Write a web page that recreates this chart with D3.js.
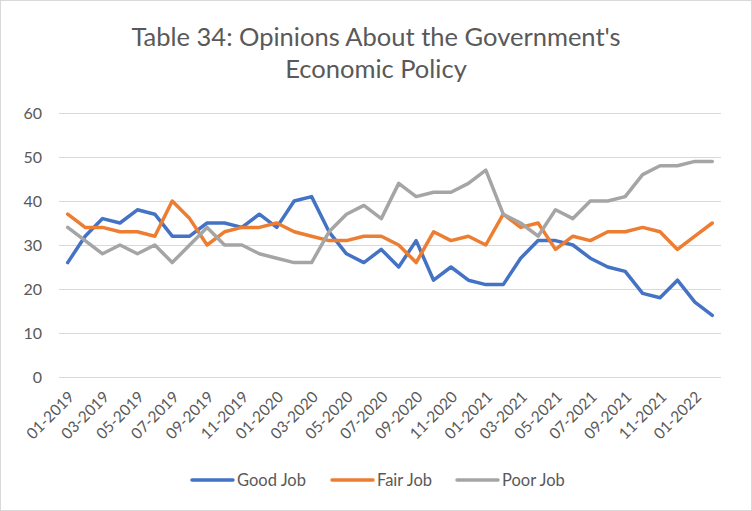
<!DOCTYPE html>
<html>
<head>
<meta charset="utf-8">
<title>Table 34</title>
<script src="https://cdn.jsdelivr.net/npm/d3@7"></script>
<style>
  body { margin: 0; background: #fff; }
  text { font-family: Lato, "Open Sans", sans-serif; fill: #595959; }
  .grid line { stroke: #d9d9d9; stroke-width: 1; }
  .series { fill: none; stroke-width: 3.5; stroke-linejoin: round; stroke-linecap: round; }
</style>
</head>
<body>
<svg width="752" height="511"></svg>
<script>
// months 01-2019 .. 02-2022
var months = ["01-2019","02-2019","03-2019","04-2019","05-2019","06-2019","07-2019","08-2019","09-2019","10-2019","11-2019","12-2019",
  "01-2020","02-2020","03-2020","04-2020","05-2020","06-2020","07-2020","08-2020","09-2020","10-2020","11-2020","12-2020",
  "01-2021","02-2021","03-2021","04-2021","05-2021","06-2021","07-2021","08-2021","09-2021","10-2021","11-2021","12-2021",
  "01-2022","02-2022"];

var goodJob = [26,32,36,35,38,37,32,32,35,35,34,37, 34,40,41,33,28,26,29,25,31,22,25,22, 21,21,27,31,31,30,27,25,24,19,18,22, 17,14];
var fairJob = [37,34,34,33,33,32,40,36,30,33,34,34, 35,33,32,31,31,32,32,30,26,33,31,32, 30,37,34,35,29,32,31,33,33,34,33,29, 32,35];
var poorJob = [34,31,28,30,28,30,26,30,34,30,30,28, 27,26,26,33,37,39,36,44,41,42,42,44, 47,37,35,32,38,36,40,40,41,46,48,48, 49,49];

var seriesNames = ["Good Job", "Fair Job", "Poor Job"];
var seriesColors = ["#4472c4", "#ed7d31", "#a5a5a5"];
var yTicks = [0, 10, 20, 30, 40, 50, 60];

var series = [goodJob, fairJob, poorJob];

var svg = d3.select("svg");

// outer chart border
svg.append("rect")
  .attr("x", 0.5).attr("y", 0.5)
  .attr("width", 751).attr("height", 510)
  .attr("fill", "#fff").attr("stroke", "#d9d9d9");

var plotLeft = 59, plotRight = 721, plotTop = 113, plotBottom = 377;

var x = d3.scalePoint()
  .domain(months)
  .range([plotLeft, plotRight])
  .padding(0.5);

var y = d3.scaleLinear()
  .domain([0, 60])
  .range([plotBottom, plotTop]);

// title
var title = svg.append("text")
  .attr("text-anchor", "middle")
  .style("font-size", "25.5px");
title.append("tspan").attr("x", 376).attr("y", 46).text("Table 34: Opinions About the Government's");
title.append("tspan").attr("x", 376).attr("y", 78).text("Economic Policy");

// gridlines
svg.append("g").attr("class", "grid")
  .selectAll("line")
  .data(yTicks)
  .enter()
  .append("line")
  .attr("x1", plotLeft).attr("x2", plotRight)
  .attr("y1", function(d) { return Math.round(y(d)) + 0.5; })
  .attr("y2", function(d) { return Math.round(y(d)) + 0.5; });

// y axis labels
var yAxis = d3.axisLeft(y).tickValues(yTicks).tickSize(0).tickPadding(0);
svg.append("g")
  .attr("transform", "translate(42,0)")
  .call(yAxis)
  .call(function(g) {
    g.select(".domain").remove();
    g.selectAll("text").style("font-size", "16px").attr("fill", "#595959");
  });

// x axis labels, every other month
var xAxis = d3.axisBottom(x)
  .tickValues(months.filter(function(d, i) { return i % 2 === 0; }))
  .tickSize(0);
svg.append("g")
  .attr("transform", "translate(0," + plotBottom + ")")
  .call(xAxis)
  .call(function(g) {
    g.select(".domain").remove();
    g.selectAll("text")
      .style("font-size", "15.5px")
      .attr("fill", "#595959")
      .attr("text-anchor", "end")
      .attr("dy", null)
      .attr("y", 0)
      .attr("transform", "translate(7,21) rotate(-45)");
  });

// lines
var line = d3.line()
  .x(function(d, i) { return x(months[i]); })
  .y(function(d) { return y(d); });

svg.selectAll("path.series")
  .data(series)
  .enter()
  .append("path")
  .attr("class", "series")
  .attr("stroke", function(d, i) { return seriesColors[i]; })
  .attr("d", line);

// legend
var legendX = [190, 330, 455];
var legend = svg.selectAll("g.legend")
  .data(seriesNames)
  .enter()
  .append("g")
  .attr("class", "legend")
  .attr("transform", function(d, i) { return "translate(" + legendX[i] + ",480)"; });

legend.append("line")
  .attr("x1", 2).attr("x2", 43)
  .attr("stroke", function(d, i) { return seriesColors[i]; })
  .attr("stroke-width", 3.5)
  .attr("stroke-linecap", "round");

legend.append("text")
  .attr("x", 47)
  .attr("dy", "0.35em")
  .style("font-size", "16.5px")
  .text(function(d) { return d; });
</script>
</body>
</html>
